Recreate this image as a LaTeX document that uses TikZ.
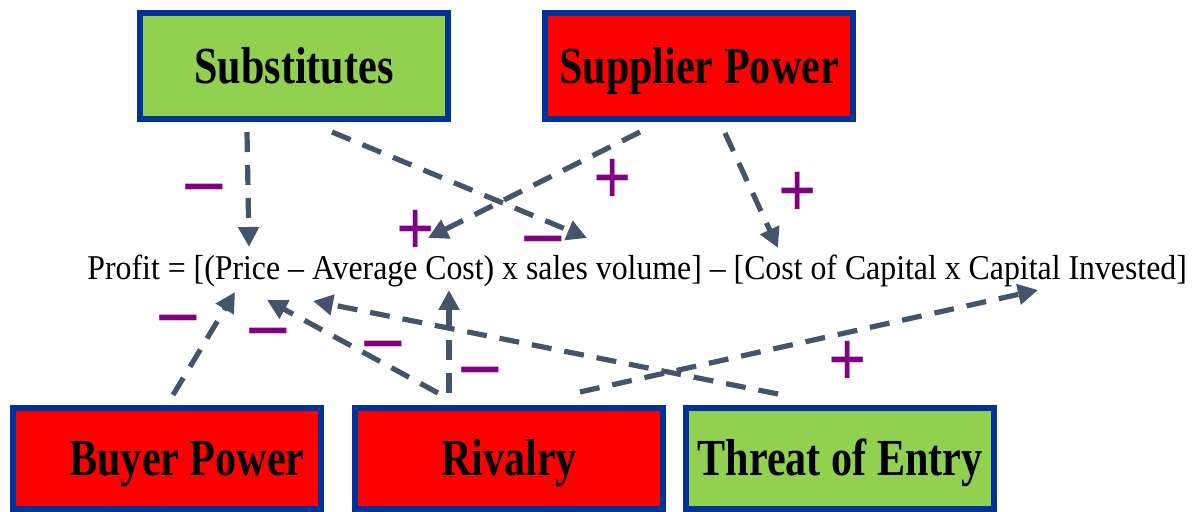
\documentclass[tikz,border=0pt]{standalone}
\usepackage{fontspec}
\setmainfont{Liberation Serif}
\newfontfamily\boxfont[FakeStretch=0.81]{Liberation Serif}
\newfontfamily\eqfont[FakeStretch=0.914]{Liberation Serif}
\usetikzlibrary{arrows.meta}
\definecolor{boxgreen}{HTML}{92D050}
\definecolor{boxred}{HTML}{FF0000}
\definecolor{boxblue}{HTML}{003399}
\definecolor{linkgrey}{HTML}{44546A}
\definecolor{signpurple}{HTML}{800080}
\tikzset{
  force/.style={draw=boxblue, line width=3pt, minimum width=154pt, minimum height=53pt,
    inner sep=0pt, text height=17.5pt, text depth=0pt,
    font=\boxfont\bfseries\fontsize{26}{30}\selectfont},
  link/.style={->, draw=linkgrey, line width=2.6pt, dash pattern=on 10pt off 6.5pt},
  plus/.style={text=signpurple, inner sep=0pt, font=\bfseries\fontsize{40}{40}\selectfont},
  minus/.style={text=signpurple, inner sep=0pt, font=\bfseries\fontsize{40}{40}\selectfont}
}

\begin{document}
\begin{tikzpicture}[x=0.5pt, y=-0.5pt, >={Triangle[length=10pt,width=10pt]}]
  \useasboundingbox (0,0) rectangle (1199,512);

  \node[force, fill=boxgreen] (subs) at (294,66) {Substitutes};
  \node[force, fill=boxred] (supp) at (699,66) {Supplier Power};
  \node[force, fill=boxred, minimum height=50.5pt] (buyer) at (167,458.5) {\hspace*{20pt}Buyer Power};
  \node[force, fill=boxred, minimum height=50.5pt] (rival) at (509,458.5) {Rivalry};
  \node[force, fill=boxgreen, minimum height=50.5pt] (entry) at (840,458.5) {Threat of Entry};

  \node[anchor=base west, inner sep=0pt, font=\eqfont\fontsize{17.4}{20}\selectfont] (profit) at (87,280)
    {Profit = [(Price – Average Cost) x sales volume] – [Cost of Capital x Capital Invested]};

  \coordinate (subsA) at (247,132);
  \coordinate (subsB) at (332,132);
  \coordinate (suppA) at (640,132);
  \coordinate (suppB) at (725,133);
  \coordinate (buyerA) at (173,395);
  \coordinate (rivalA) at (438,393);
  \coordinate (rivalB) at (449,393);
  \coordinate (rivalC) at (580,392);
  \coordinate (entryA) at (778,394);
  \coordinate (priceTop) at (249,247);
  \coordinate (volTop) at (587,238);
  \coordinate (avgTop) at (428,238);
  \coordinate (capTop) at (778,248);
  \coordinate (priceLow) at (235,292);
  \coordinate (priceMid) at (267,300);
  \coordinate (avgLow) at (449,290);
  \coordinate (priceEnd) at (313,301);
  \coordinate (investLow) at (1038,290);

  \draw[link] (subsA) -- (priceTop);
  \draw[link] (subsB) -- (volTop);
  \draw[link] (suppA) -- (avgTop);
  \draw[link] (suppB) -- (capTop);
  \draw[link] (buyerA) -- (priceLow);
  \draw[link] (rivalA) -- (priceMid);
  \draw[link] (rivalB) -- (avgLow);
  \draw[link] (entryA) -- (priceEnd);
  \draw[link] (rivalC) -- (investLow);

  \node[minus] (m1) at (204,199) {−};
  \node[minus] (m2) at (543,251) {−};
  \node[minus] (m3) at (178,330) {−};
  \node[minus] (m4) at (268,343) {−};
  \node[minus] (m5) at (383,356) {−};
  \node[minus] (m6) at (480,382) {−};
  \node[plus] (p1) at (613,182) {\scalebox{0.84}[1]{+}};
  \node[plus] (p2) at (416,233) {\scalebox{0.84}[1]{+}};
  \node[plus] (p3) at (798,195) {\scalebox{0.84}[1]{+}};
  \node[plus] (p4) at (848,364) {\scalebox{0.84}[1]{+}};
\end{tikzpicture}
\end{document}
